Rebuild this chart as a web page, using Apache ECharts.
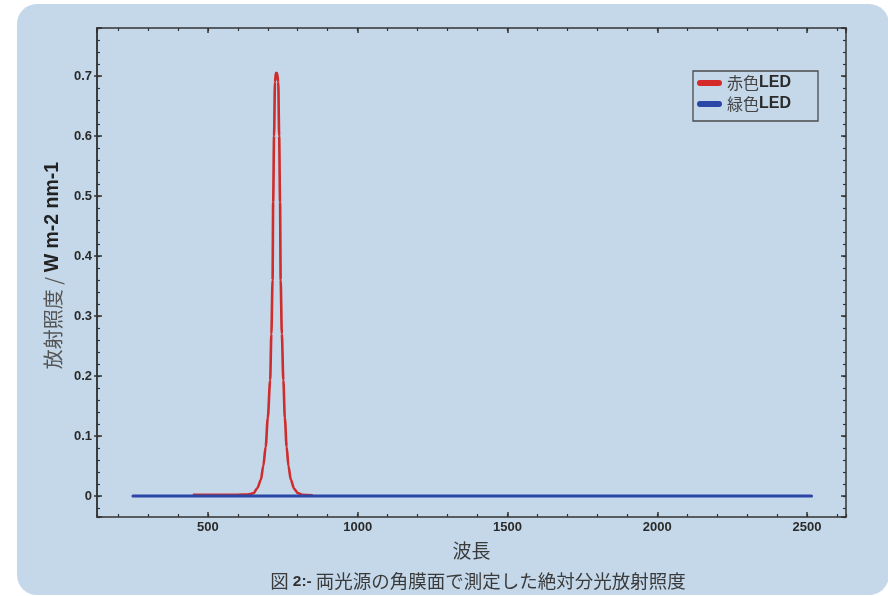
<!DOCTYPE html>
<html>
<head>
<meta charset="utf-8">
<script src="https://cdn.jsdelivr.net/npm/echarts@6/dist/echarts.min.js"></script>
<style>html,body{margin:0;padding:0;background:#fff}#c{width:888px;height:596px}</style>
</head>
<body>
<div id="c"></div>
<script>
// ---- data ----
const seriesNames = ['赤色LED', '緑色LED'];
const redWavelength = [450, 520, 600, 630, 645, 653, 665, 677, 685, 693, 700, 708, 712, 716, 718, 721, 724, 727, 731, 735, 738, 741, 743, 747, 752, 757, 763, 769, 777, 788, 800, 815, 850];
const redIrradiance = [0.002, 0.002, 0.002, 0.0025, 0.0035, 0.005, 0.013, 0.027, 0.05, 0.082, 0.13, 0.193, 0.27, 0.36, 0.49, 0.6, 0.69, 0.705, 0.705, 0.69, 0.6, 0.49, 0.36, 0.27, 0.193, 0.13, 0.082, 0.05, 0.027, 0.012, 0.005, 0.002, 0.001];
const blueWavelength = [250, 500, 1000, 1500, 2000, 2515];
const blueIrradiance = [0, 0, 0, 0, 0, 0];
const xRange = [130, 2630];
const yRange = [-0.035, 0.78];
const xTitle = '波長';
const yTitleCJK = '放射照度';
const yTitleSep = ' / ';
const yTitleUnit = 'W m-2 nm-1';
const captionPrefix = '図 ';
const captionNumber = '2:-';
const captionText = ' 両光源の角膜面で測定した絶対分光放射照度';

const redData = redWavelength.map((x, i) => [x, redIrradiance[i]]);
const blueData = blueWavelength.map((x, i) => [x, blueIrradiance[i]]);

const AX = '#333';
const LBL = '#2a2a2a';
const CJK = '"Noto Sans CJK JP", sans-serif';
const SANS = '"Liberation Sans", Arial, sans-serif';

function xAx(pos, major, labels) {
  return {
    type: 'value', position: pos, min: xRange[0], max: xRange[1],
    splitNumber: major ? 5 : 25,
    axisLine: { show: major, onZero: false, lineStyle: { color: AX, width: 1.5 } },
    axisTick: { show: true, inside: true, length: major ? 5 : 3, lineStyle: { color: AX, width: major ? 1.5 : 1.2 } },
    axisLabel: labels ? {
      show: true, margin: 4, color: LBL, fontFamily: SANS, fontWeight: 'bold', fontSize: 13,
      showMinLabel: false, showMaxLabel: false,
      formatter: v => (Math.abs(v % 500) < 1e-6 ? String(v) : '')
    } : { show: false },
    splitLine: { show: false },
    name: labels ? xTitle : '',
    nameLocation: 'middle', nameGap: 24,
    nameTextStyle: { fontFamily: CJK, fontSize: 19, color: '#3a3a3a' }
  };
}
function yAx(pos, major, labels, outside) {
  return {
    type: 'value', position: pos, min: yRange[0], max: yRange[1],
    splitNumber: major ? 8 : 40,
    axisLine: { show: major, onZero: false, lineStyle: { color: AX, width: 1.5 } },
    axisTick: { show: true, inside: !outside, length: outside ? 3 : (major ? 5 : 3), lineStyle: { color: AX, width: major ? 1.5 : 1.2 } },
    axisLabel: labels ? {
      show: true, margin: 5, color: LBL, fontFamily: SANS, fontWeight: 'bold', fontSize: 13,
      showMinLabel: false, showMaxLabel: false,
      formatter: v => {
        const r = Math.round(v * 10) / 10;
        return Math.abs(v - r) < 1e-6 ? String(r) : '';
      }
    } : { show: false },
    splitLine: { show: false },
    name: labels ? '{a|' + yTitleCJK + '}{s|' + yTitleSep + '}{b|' + yTitleUnit + '}' : '',
    nameLocation: 'middle', nameRotate: 90, nameGap: 33,
    nameTextStyle: {
      rich: {
        a: { fontFamily: CJK, fontSize: 20, color: '#555', padding: [0, 0, 0, 14] },
        s: { fontFamily: CJK, fontSize: 20, color: '#555' },
        b: { fontFamily: SANS, fontSize: 19.5, fontWeight: 'bold', color: '#222' }
      }
    }
  };
}

const chart = echarts.init(document.getElementById('c'), null, { renderer: 'canvas' });
chart.setOption({
  backgroundColor: '#ffffff',
  animation: false,
  graphic: [{
    type: 'rect', z: -100, silent: true,
    shape: { x: 17, y: 4, width: 872, height: 591, r: 20 },
    style: { fill: '#c4d8ea' }
  }],
  title: {
    left: 473, top: 567, textAlign: 'center',
    text: '{a|' + captionPrefix + '}{b|' + captionNumber + '}{a|' + captionText + '}',
    textStyle: {
      fontWeight: 'normal',
      rich: {
        a: { fontFamily: CJK, fontSize: 18.5, fontWeight: 'normal', color: '#3a3a3a' },
        b: { fontFamily: SANS, fontSize: 15.5, fontWeight: 'bold', color: '#333' }
      }
    }
  },
  legend: {
    orient: 'vertical', left: 693, top: 71,
    backgroundColor: 'transparent', borderColor: '#4a4a4a', borderWidth: 1.3, borderRadius: 0,
    padding: [4, 27, 9, 4], itemGap: 5, itemWidth: 25, itemHeight: 7,
    icon: 'path://M3,0 H22 A3,3 0 0 1 22,6 H3 A3,3 0 0 1 3,0 Z',
    data: seriesNames,
    formatter: n => '{a|' + n.slice(0, 2) + '}{b|' + n.slice(2) + '}',
    textStyle: {
      padding: [0, 0, 0, 0],
      rich: {
        a: { fontFamily: CJK, fontSize: 16, color: '#444', lineHeight: 16 },
        b: { fontFamily: SANS, fontSize: 16, fontWeight: 'bold', color: '#2a2a2a', lineHeight: 16 }
      }
    }
  },
  grid: { left: 97, top: 28, right: 42, bottom: 79, containLabel: false, outerBoundsMode: 'none' },
  xAxis: [xAx('bottom', true, true), xAx('bottom', false, false), xAx('top', true, false), xAx('top', false, false)],
  yAxis: [yAx('left', true, true, true), yAx('left', true, false, false), yAx('left', false, false, false), yAx('right', true, false, false), yAx('right', false, false, false)],
  series: [
    {
      name: seriesNames[0], type: 'line', data: redData, xAxisIndex: 0, yAxisIndex: 0,
      showSymbol: false, symbol: 'none', smooth: 0.3, smoothMonotone: 'x',
      lineStyle: { color: '#cf2c2c', width: 2.6 }, itemStyle: { color: '#d42a2a' }, z: 2
    },
    {
      name: seriesNames[1], type: 'line', data: blueData, xAxisIndex: 0, yAxisIndex: 0,
      showSymbol: false, symbol: 'none',
      lineStyle: { color: '#2b46a6', width: 3, cap: 'round' }, itemStyle: { color: '#2b46a6' }, z: 3
    }
  ]
});
</script>
</body>
</html>
